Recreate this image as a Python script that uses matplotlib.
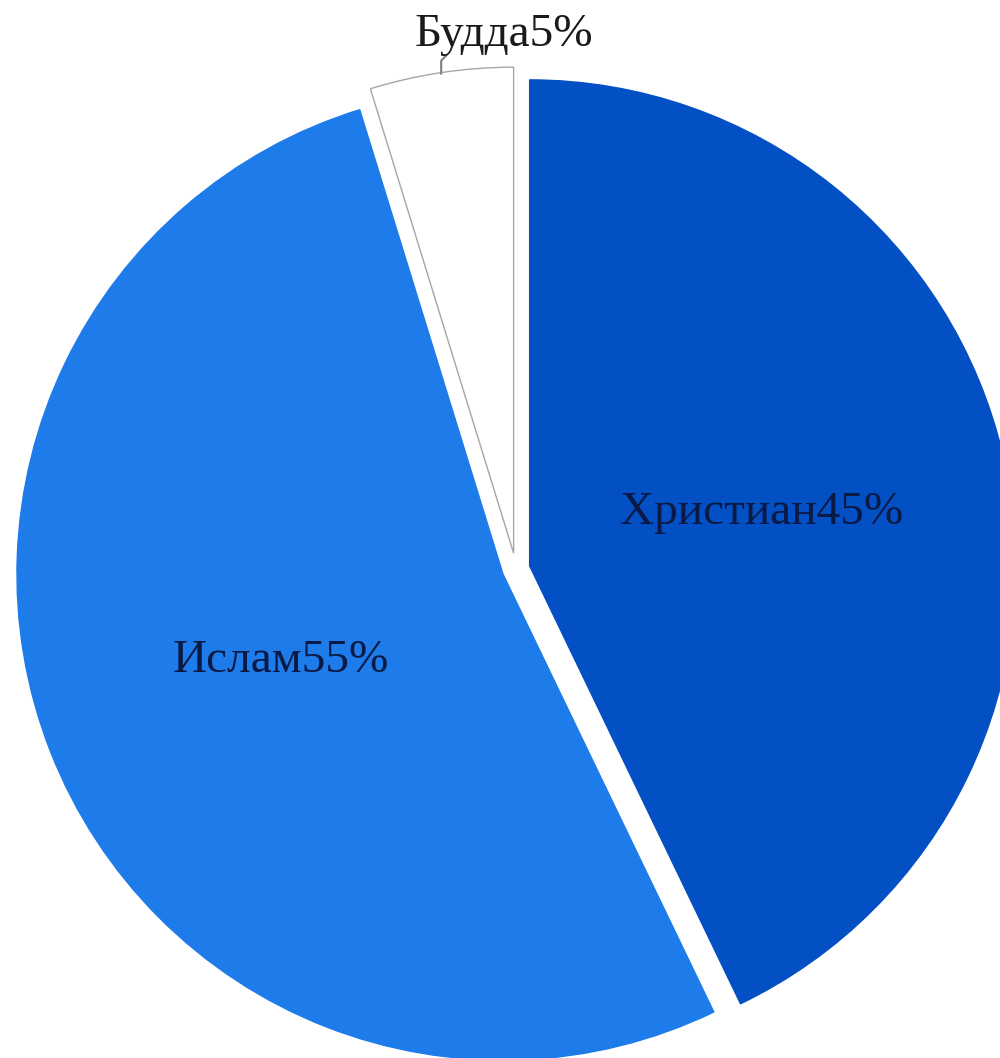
import numpy as np
import matplotlib
matplotlib.use("Agg")
import matplotlib.pyplot as plt

labels = ["Христиан", "Ислам", "Будда"]
values = [45, 55, 5]
colors = ["#034FC4", "#1D7BEA", "#FFFFFF"]
edge_colors = ["#034FC4", "#1D7BEA", "#A6A6A6"]
explode_px = [14, 14, 16]

W, H = 1000, 1058
fig = plt.figure(figsize=(W / 100, H / 100), dpi=100)
ax = fig.add_axes([0, 0, 1, 1])

center = (516, 489)
radius = 486

wedges, _ = ax.pie(values, colors=colors, explode=explode_px, startangle=90,
                   counterclock=False, center=center, radius=radius,
                   wedgeprops=dict(linewidth=1.0))
for w, ec in zip(wedges, edge_colors):
    w.set_edgecolor(ec)

ax.set_xlim(0, W)
ax.set_ylim(0, H)
ax.set_aspect("equal")
ax.axis("off")

font = dict(family=["Liberation Serif", "DejaVu Serif"], fontsize=34)
label_dist = 0.49
for i in range(2):
    w = wedges[i]
    ang = np.deg2rad((w.theta1 + w.theta2) / 2)
    cx, cy = w.center
    ax.text(cx + label_dist * radius * np.cos(ang), cy + label_dist * radius * np.sin(ang),
            f"{labels[i]}{values[i]}%", ha="center", va="center", color="#0A1A45", **font)

# Buddha: outside label with leader line
w = wedges[2]
ang = np.deg2rad((w.theta1 + w.theta2) / 2)
cx, cy = w.center
px, py = cx + radius * np.cos(ang), cy + radius * np.sin(ang)
ax.plot([px, px, px + 5], [py - 1, py + 12, py + 17], color="#808080", lw=1.5)
ax.text(px + 63, py + 38, f"{labels[2]}{values[2]}%", ha="center", va="center",
        color="#1A1A1A", **font)

fig.savefig("out.png", dpi=100)
